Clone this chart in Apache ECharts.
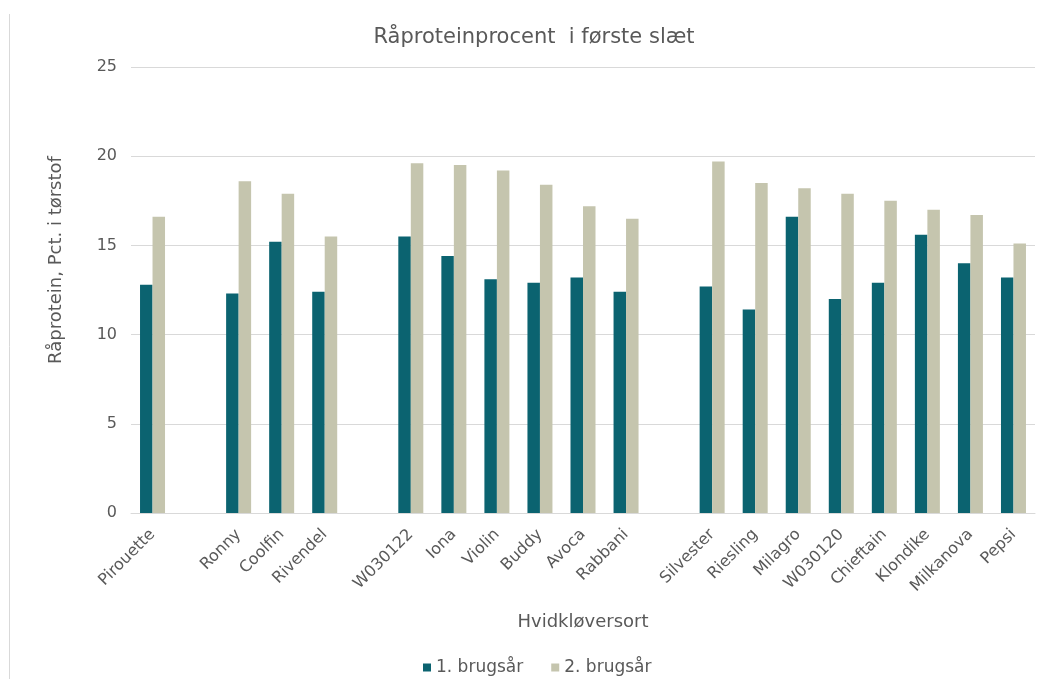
<!DOCTYPE html>
<html>
<head>
<meta charset="utf-8">
<script src="https://cdn.jsdelivr.net/npm/echarts@6/dist/echarts.min.js"></script>
<style>
  html, body { margin: 0; padding: 0; background: #fff; }
  #chart { width: 1037px; height: 679px; }
</style>
</head>
<body>
<div id="chart"></div>
<script>
// blank names are the gaps between groups of varieties
const sorter = [
  'Pirouette', ' ',
  'Ronny', 'Coolfin', 'Rivendel', '  ',
  'W030122', 'Iona', 'Violin', 'Buddy', 'Avoca', 'Rabbani', '   ',
  'Silvester', 'Riesling', 'Milagro', 'W030120', 'Chieftain', 'Klondike', 'Milkanova', 'Pepsi'
]
const brugsaar1 = [
  12.8, null,
  12.3, 15.2, 12.4, null,
  15.5, 14.4, 13.1, 12.9, 13.2, 12.4, null,
  12.7, 11.4, 16.6, 12.0, 12.9, 15.6, 14.0, 13.2
]
const brugsaar2 = [
  16.6, null,
  18.6, 17.9, 15.5, null,
  19.6, 19.5, 19.2, 18.4, 17.2, 16.5, null,
  19.7, 18.5, 18.2, 17.9, 17.5, 17.0, 16.7, 15.1
]

const textColor = '#595959'
const font = 'DejaVu Sans, Verdana, sans-serif'

let chart = echarts.init(document.getElementById('chart'), null, { renderer: 'canvas' })

let option = {
  animation: false,
  textStyle: { fontFamily: font },
  title: {
    text: 'Råproteinprocent  i første slæt',
    left: 529,
    textAlign: 'center',
    top: 22,
    textStyle: { color: textColor, fontSize: 21, fontWeight: 'normal', fontFamily: font }
  },
  legend: {
    top: 654,
    left: 418,
    itemWidth: 8,
    itemHeight: 8,
    itemGap: 28,
    icon: 'rect',
    textStyle: { color: textColor, fontSize: 17, fontFamily: font },
    data: ['1. brugsår', '2. brugsår']
  },
  grid: { left: 131, right: 2, top: 67, bottom: 166 },
  xAxis: {
    type: 'category',
    data: sorter,
    name: 'Hvidkløversort',
    nameLocation: 'middle',
    nameGap: 100,
    nameTextStyle: { color: textColor, fontSize: 18 },
    axisLine: { show: true, lineStyle: { color: '#d9d9d9' } },
    axisTick: { show: false },
    axisLabel: { rotate: 45, color: textColor, fontSize: 16, margin: 19, interval: 0 }
  },
  yAxis: {
    type: 'value',
    min: 0,
    max: 25,
    interval: 5,
    axisLine: { show: false },
    axisTick: { show: false },
    axisLabel: { color: textColor, fontSize: 16, margin: 14 },
    splitLine: { lineStyle: { color: '#d9d9d9' } }
  },
  graphic: [
    {
      type: 'text',
      x: 56,
      y: 260,
      rotation: Math.PI / 2,
      style: {
        text: 'Råprotein, Pct. i tørstof',
        fill: textColor,
        font: '18px ' + font,
        align: 'center',
        verticalAlign: 'middle'
      }
    },
    {
      type: 'line',
      shape: { x1: 9.5, y1: 14, x2: 9.5, y2: 679 },
      style: { stroke: '#d9d9d9', lineWidth: 1 }
    }
  ],
  series: [
    {
      name: '1. brugsår',
      type: 'bar',
      data: brugsaar1,
      barWidth: 12.5,
      barGap: '0%',
      itemStyle: { color: '#0b6370' }
    },
    {
      name: '2. brugsår',
      type: 'bar',
      data: brugsaar2,
      barWidth: 12.5,
      itemStyle: { color: '#c5c5ae' }
    }
  ]
}

chart.setOption(option)
window.addEventListener('resize', chart.resize)
</script>
</body>
</html>
